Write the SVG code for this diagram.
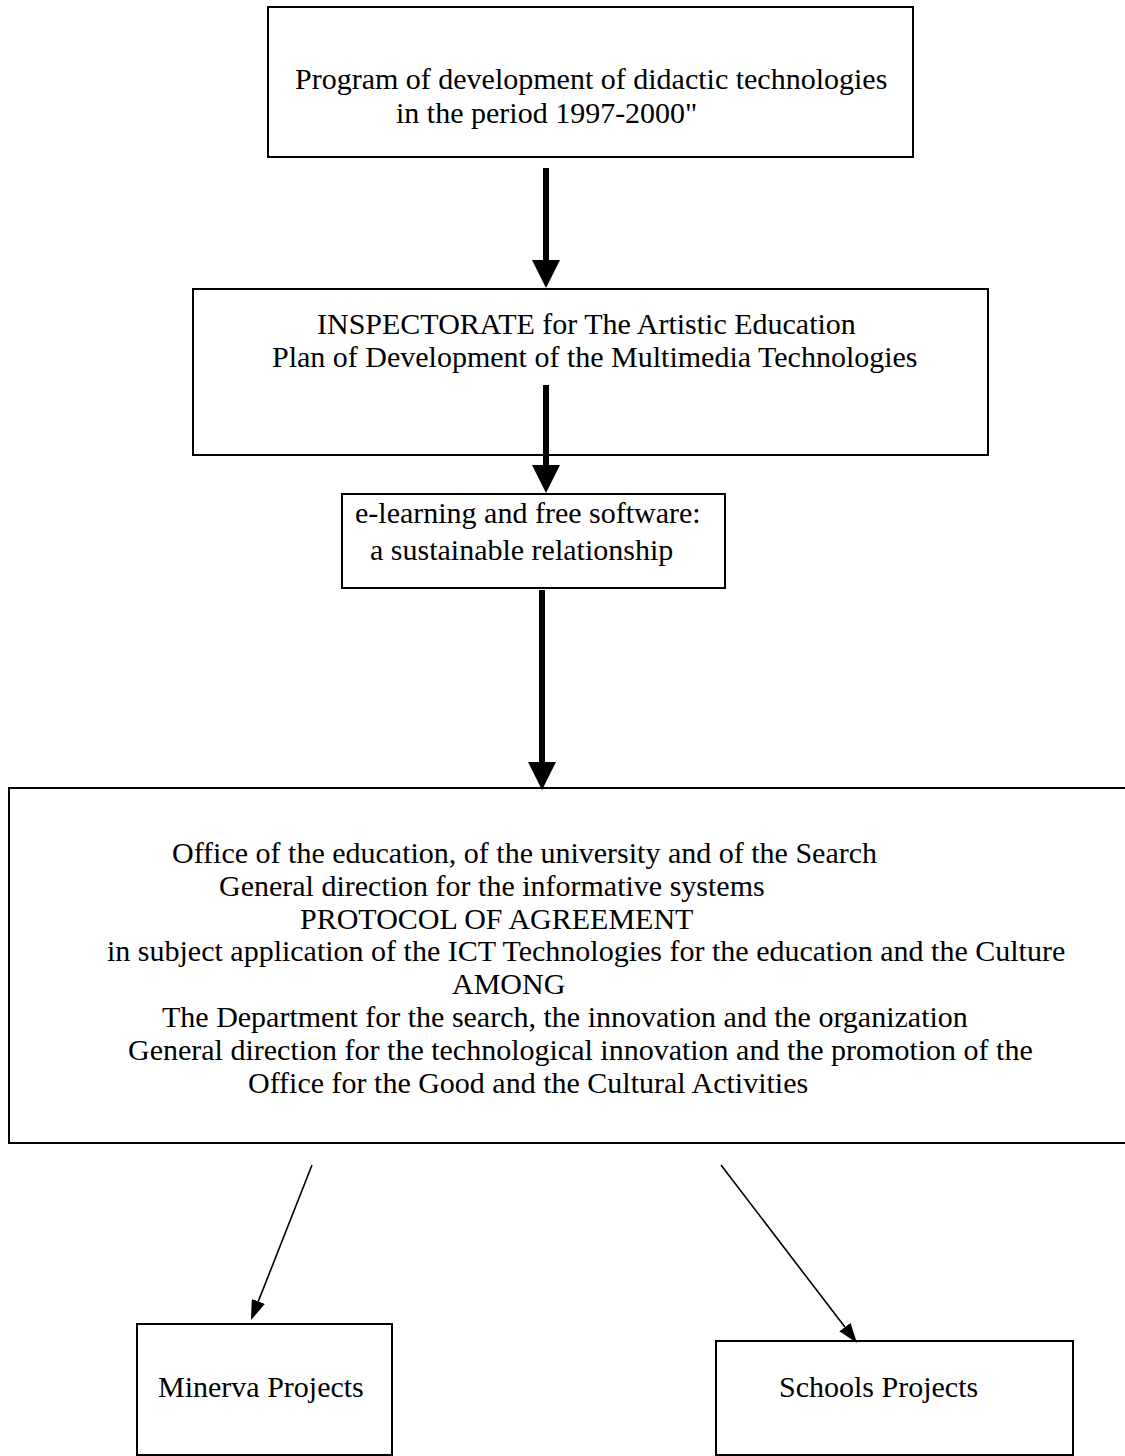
<svg xmlns="http://www.w3.org/2000/svg" width="1125" height="1456" viewBox="0 0 1125 1456">
<style>
.box{fill:#fff;stroke:#000;stroke-width:2}
.t{font-family:"Liberation Serif","Times New Roman",serif;font-size:30px;fill:#000}
.thick{stroke:#000;stroke-width:6;fill:none}
.thin{stroke:#000;stroke-width:1.6;fill:none}
</style>
<defs>
<marker id="bigHead" markerUnits="userSpaceOnUse" viewBox="0 0 28 28" refX="0" refY="14" markerWidth="28" markerHeight="28" orient="auto">
<path d="M0,0 L28,14 L0,28 z" fill="#000"/>
</marker>
<marker id="smallHead" markerUnits="userSpaceOnUse" viewBox="0 0 20 14" refX="0" refY="7" markerWidth="20" markerHeight="14" orient="auto">
<path d="M0,0 L20,7 L0,14 z" fill="#000"/>
</marker>
</defs>
<rect width="1125" height="1456" fill="#fff"/>
<g id="n-program">
<rect class="box" x="268" y="7" width="645" height="150"/>
<text class="t" x="295" y="89">Program of development of didactic technologies</text>
<text class="t" x="396" y="123">in the period 1997-2000"</text>
</g>
<g id="n-inspectorate">
<rect class="box" x="193" y="289" width="795" height="166"/>
<text class="t" x="317" y="334">INSPECTORATE for The Artistic Education</text>
<text class="t" x="272" y="367">Plan of Development of the Multimedia Technologies</text>
</g>
<g id="n-elearning">
<rect class="box" x="342" y="494" width="383" height="94"/>
<text class="t" x="355" y="523">e-learning and free software:</text>
<text class="t" x="370" y="560">a sustainable relationship</text>
</g>
<g id="n-office">
<rect class="box" x="9" y="788" width="1130" height="355"/>
<text class="t" x="172" y="863">Office of the education, of the university and of the Search</text>
<text class="t" x="219" y="896">General direction for the informative systems</text>
<text class="t" x="300" y="929">PROTOCOL OF AGREEMENT</text>
<text class="t" x="107" y="961">in subject application of the ICT Technologies for the education and the Culture</text>
<text class="t" x="452" y="994">AMONG</text>
<text class="t" x="162" y="1027">The Department for the search, the innovation and the organization</text>
<text class="t" x="128" y="1060">General direction for the technological innovation and the promotion of the</text>
<text class="t" x="248" y="1093">Office for the Good and the Cultural Activities</text>
</g>
<g id="n-minerva">
<rect class="box" x="137" y="1324" width="255" height="131"/>
<text class="t" x="158" y="1397">Minerva Projects</text>
</g>
<g id="n-schools">
<rect class="box" x="716" y="1341" width="357" height="114"/>
<text class="t" x="779" y="1397">Schools Projects</text>
</g>
<g id="connectors">
<line class="thick" x1="546" y1="168" x2="546" y2="260" marker-end="url(#bigHead)"/>
<line class="thick" x1="546" y1="385" x2="546" y2="465" marker-end="url(#bigHead)"/>
<line class="thick" x1="542" y1="590" x2="542" y2="762" marker-end="url(#bigHead)"/>
<line class="thin" x1="312" y1="1165" x2="258.3" y2="1301.4" marker-end="url(#smallHead)"/>
<line class="thin" x1="721" y1="1165" x2="844.9" y2="1327.1" marker-end="url(#smallHead)"/>
</g>
</svg>
